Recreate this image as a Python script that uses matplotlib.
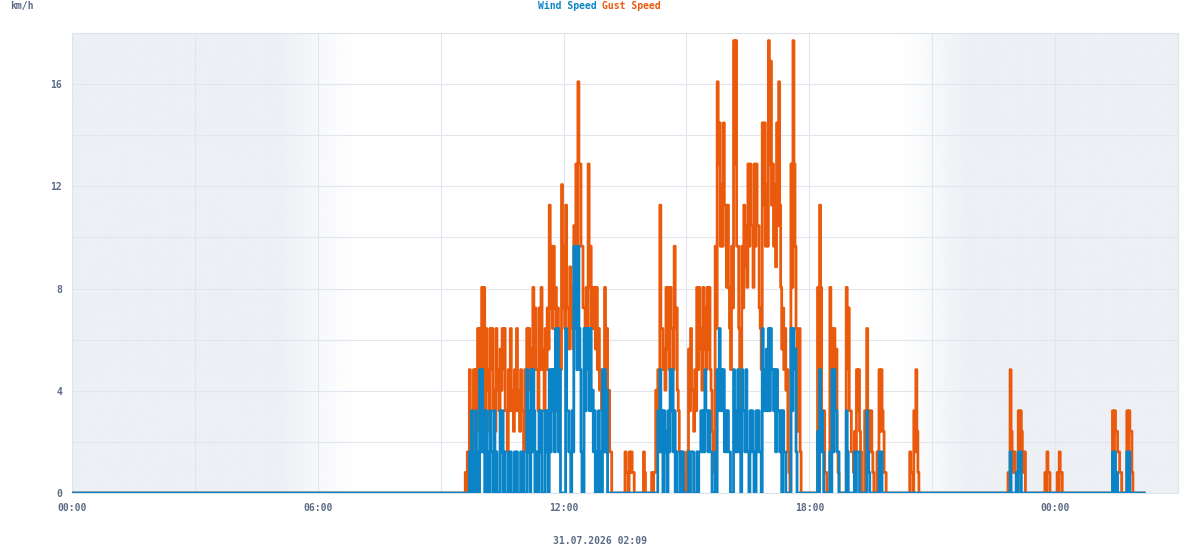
import numpy as np
import matplotlib.pyplot as plt
from matplotlib.colors import to_rgb

# samples every 1.5 min starting 09:00, one string per hour (40 samples),
# each char is a level in 0.5 mph steps written in base 36 (a=10 ... m=22)
GUST = [
    "0000000000000000000000000000000000000000",  # placeholder, replaced below
]
GUST = [
    "000000000000000000000000" "1021634264638486",       # 09
    "a6a48563868453856475" "86844264854364854364",       # 10
    "4264858674a6966496a7" "648697e9c8c9a79686f9",       # 11
    "c8e997b8a7d9gckggcc9" "97a8gac8a8a7a6856442",       # 12
    "a6845220000000000000" "21102121100000000021",       # 13
    "00000010115364e88675" "a7a6a886c89542212110",       # 14
    "2174855364a6a785a796" "a7a65321c8kgicfcieea",       # 15
    "ea86c9mgmcc842c9ebda" "gcgddagcgdd986ieicfc",       # 16
    "mglegcfbidkea7968562" "10gamgc8638200000000",       # 17
    "00000000a6ea42411000" "a685867210000000a694",       # 18
    "42213264632000428442" "42100021636431100000",       # 19
    "00000000000000000021" "10426310000000000000",       # 20
    "00000000000000000000" "00000000000000000000",       # 21
    "00000000000000000000" "00000000000000106321",       # 22
    "21104243212000000000" "00000000001021100000",       # 23
    "00102110000000000000" "00000000000000000000",       # 00
    "00000000000000004243" "32211000004243310000",       # 01
    "00000000",                                          # 02
]
WIND = [
    "0000000000000000000000000000" "204020420062",       # 09
    "62404200422040200042" "40200020200020200020",       # 10
    "20006240626400204240" "00424062646284826000",       # 11
    "0084422042c8c6c86200" "84868484524020420062",       # 12
    "62500000000000000000" "00000000000000000000",       # 13
    "00000000000042624042" "30426462402000202000",       # 14
    "00202220002022424264" "42422000206484646242",       # 15
    "42200062426420644262" "20424200424220846474",       # 16
    "84866462644240422000" "00848672000000000000",       # 17
    "00000000306242000000" "20626442200000004200",       # 18
    "00002022200000004210" "00000000202000000000",       # 19
    "00000000000000000000" "00000000000000000000",       # 20
    "00000000000000000000" "00000000000000000000",       # 21
    "00000000000000000000" "00000000000000002000",       # 22
    "00102120000000000000" "00000000000000000000",       # 23
    "00000000000000000000" "00000000000000000000",       # 00
    "00000000000000002020" "10000000002020000000",       # 01
    "00000000",                                          # 02
]
START_HOUR = 9
STEP_H = 1.5 / 60
HALF_MPH_KMH = 0.8047

x_ticks = [0, 6, 12, 18, 24]
x_labels = ["00:00", "06:00", "12:00", "18:00", "00:00"]
y_ticks = [0, 4, 8, 12, 16]

# night shading (hours): dark -> fade -> day -> fade -> dark
night_hours = [0, 5.0, 6.8, 20.3, 21.9, 27]
night_alpha = [1, 1, 0, 0, 1, 1]

BLUE = "#0a84c6"
ORANGE = "#ea5a0c"
TXT = "#5b6b86"
GRID = "#e1e6ee"


def decode(rows):
    lv = [int(c, 36) for c in "".join(rows)]
    return np.array(lv) * HALF_MPH_KMH


gust = decode(GUST)
wind = decode(WIND)
t = START_HOUR + np.arange(len(gust)) * STEP_H
# quiet before the first sample
t = np.concatenate([[0], t])
gust = np.concatenate([[0], gust])
wind = np.concatenate([[0], wind])

fig = plt.figure(figsize=(12, 5.5), dpi=100)
ax = fig.add_axes([72 / 1200, 1 - 493 / 550, 1106 / 1200, 460 / 550])

# background gradient for night
xs = np.linspace(0, 27, 1200)
a = np.interp(xs, night_hours, night_alpha)
img = np.ones((2, len(xs), 4))
img[..., :3] = to_rgb("#edf0f5")
img[..., 3] = a
ax.imshow(img, extent=[0, 27, 0, 18], aspect="auto", zorder=0, interpolation="bilinear")

ax.plot(t, gust, color=ORANGE, lw=2.0, drawstyle="steps-post", zorder=3)
ax.plot(t, wind, color=BLUE, lw=2.0, drawstyle="steps-post", zorder=4)

ax.set_xlim(0, 27)
ax.set_ylim(0, 18)
ax.set_xticks(np.arange(0, 28, 3))
ax.set_xticklabels([x_labels[x_ticks.index(h)] if h in x_ticks else "" for h in range(0, 28, 3)])
ax.set_yticks(np.arange(0, 19, 2))
ax.set_yticklabels([str(v) if v in y_ticks else "" for v in range(0, 19, 2)])
ax.grid(True, color=GRID, lw=0.8, zorder=1)
ax.set_axisbelow(True)
ax.tick_params(length=0, labelsize=7, labelcolor=TXT, pad=7)
for lab in ax.get_xticklabels() + ax.get_yticklabels():
    lab.set_fontfamily("DejaVu Sans Mono")
    lab.set_fontweight("bold")
for s in ax.spines.values():
    s.set_color("#dfe4ea")
    s.set_linewidth(0.8)

mono = dict(family="DejaVu Sans Mono", weight="bold", size=7)
fig.text(10 / 1200, 1 - 6 / 550, "km/h", color=TXT, va="center", ha="left", **mono)
fig.text(597 / 1200, 1 - 6 / 550, "Wind Speed", color=BLUE, va="center", ha="right", **mono)
fig.text(602 / 1200, 1 - 6 / 550, "Gust Speed", color=ORANGE, va="center", ha="left", **mono)
fig.text(600 / 1200, 1 - 541 / 550, "31.07.2026 02:09", color=TXT, va="center", ha="center", **mono)

fig.savefig("out.png", dpi=100)
